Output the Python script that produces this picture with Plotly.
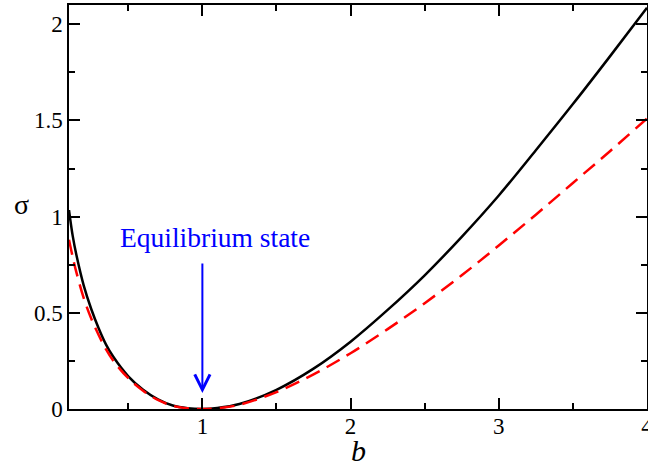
import plotly.graph_objects as go

b_left = [0.1, 0.125, 0.15, 0.2, 0.25, 0.3, 0.35, 0.4, 0.5, 0.6, 0.7, 0.8, 0.9, 1.0]
b_right = [1.1, 1.25, 1.5, 1.75, 2.0, 2.25, 2.5, 2.75, 3.0, 3.25, 3.5, 3.75, 4.0]
b_vals = b_left + b_right

sigma_black = [1.034, 0.90, 0.80, 0.64, 0.52, 0.42, 0.335, 0.27, 0.17, 0.10, 0.05, 0.018, 0.004, 0.0,
               0.005, 0.026, 0.10, 0.21, 0.35, 0.515, 0.695, 0.895, 1.11, 1.345, 1.585, 1.833, 2.086]
sigma_red = [0.88, 0.79, 0.71, 0.575, 0.47, 0.385, 0.31, 0.25, 0.16, 0.095, 0.047, 0.017, 0.004, 0.0,
             0.004, 0.022, 0.088, 0.18, 0.29, 0.415, 0.55, 0.695, 0.85, 1.01, 1.175, 1.34, 1.51]

x_ticks = [1, 2, 3, 4]
x_minor = [0.5, 1.5, 2.5, 3.5]
y_ticks = [0, 0.5, 1, 1.5, 2]
y_minor = [0.25, 0.75, 1.25, 1.75]
y_ticklabels = ["0", "0.5", "1", "1.5", "2"]

eq_b, eq_sigma_tip = 1.0, 0.083
arrow_tail_sigma = 0.764
label_b, label_sigma = 1.085, 0.89
label_text = "Equilibrium state"

FONT = "Liberation Serif, Times New Roman, serif"

fig = go.Figure()
fig.add_trace(go.Scatter(x=b_vals, y=sigma_black, mode="lines",
                         line=dict(color="black", width=2.5, shape="spline", smoothing=1.0),
                         showlegend=False))
fig.add_trace(go.Scatter(x=b_vals, y=sigma_red, mode="lines",
                         line=dict(color="#ff0000", width=2.5, dash="15px,8px", shape="spline", smoothing=1.0),
                         showlegend=False))

axis_common = dict(showline=True, linecolor="black", linewidth=1.5, mirror="ticks",
                   ticks="inside", ticklen=11, tickwidth=1.5, tickcolor="black",
                   showgrid=False, zeroline=False, ticklabeloverflow="allow", automargin=False,
                   tickfont=dict(family=FONT, size=23, color="black"))

fig.update_xaxes(range=[0.1, 4], tickvals=x_ticks, ticktext=[str(v) for v in x_ticks],
                 minor=dict(tickvals=x_minor, ticks="inside", ticklen=6, tickwidth=1.5, tickcolor="black"),
                 ticklabelstandoff=-4, **axis_common)
fig.update_yaxes(range=[0, 2.1], tickvals=y_ticks, ticktext=y_ticklabels,
                 minor=dict(tickvals=y_minor, ticks="inside", ticklen=6, tickwidth=1.5, tickcolor="black"),
                 ticklabelstandoff=0, **axis_common)

fig.add_annotation(x=eq_b, y=eq_sigma_tip, ax=eq_b, ay=arrow_tail_sigma,
                   xref="x", yref="y", axref="x", ayref="y",
                   text="", showarrow=True, arrowhead=5, arrowsize=1.5, arrowwidth=2,
                   arrowcolor="#0000ff", standoff=0)
fig.add_annotation(x=label_b, y=label_sigma, xref="x", yref="y", text=label_text, showarrow=False,
                   xanchor="center", yanchor="middle",
                   font=dict(family=FONT, size=27.5, color="#0000ff"))

fig.add_annotation(x=-0.083, y=0.506, xref="paper", yref="paper", text="σ", showarrow=False,
                   xanchor="center", yanchor="middle",
                   font=dict(family=FONT, size=28, color="black"))
fig.add_annotation(x=0.5, y=-0.102, xref="paper", yref="paper", text="<i>b</i>", showarrow=False,
                   xanchor="center", yanchor="middle", height=22, valign="middle",
                   font=dict(family=FONT, size=30, color="black"))

fig.update_layout(width=648, height=464, plot_bgcolor="white", paper_bgcolor="white",
                  font=dict(family=FONT, color="black"),
                  margin=dict(l=69, r=1, t=5, b=55, autoexpand=False))

fig.write_html("out.html", config={"displayModeBar": False},
               post_script="document.body.style.margin='0';document.body.style.padding='0';")
